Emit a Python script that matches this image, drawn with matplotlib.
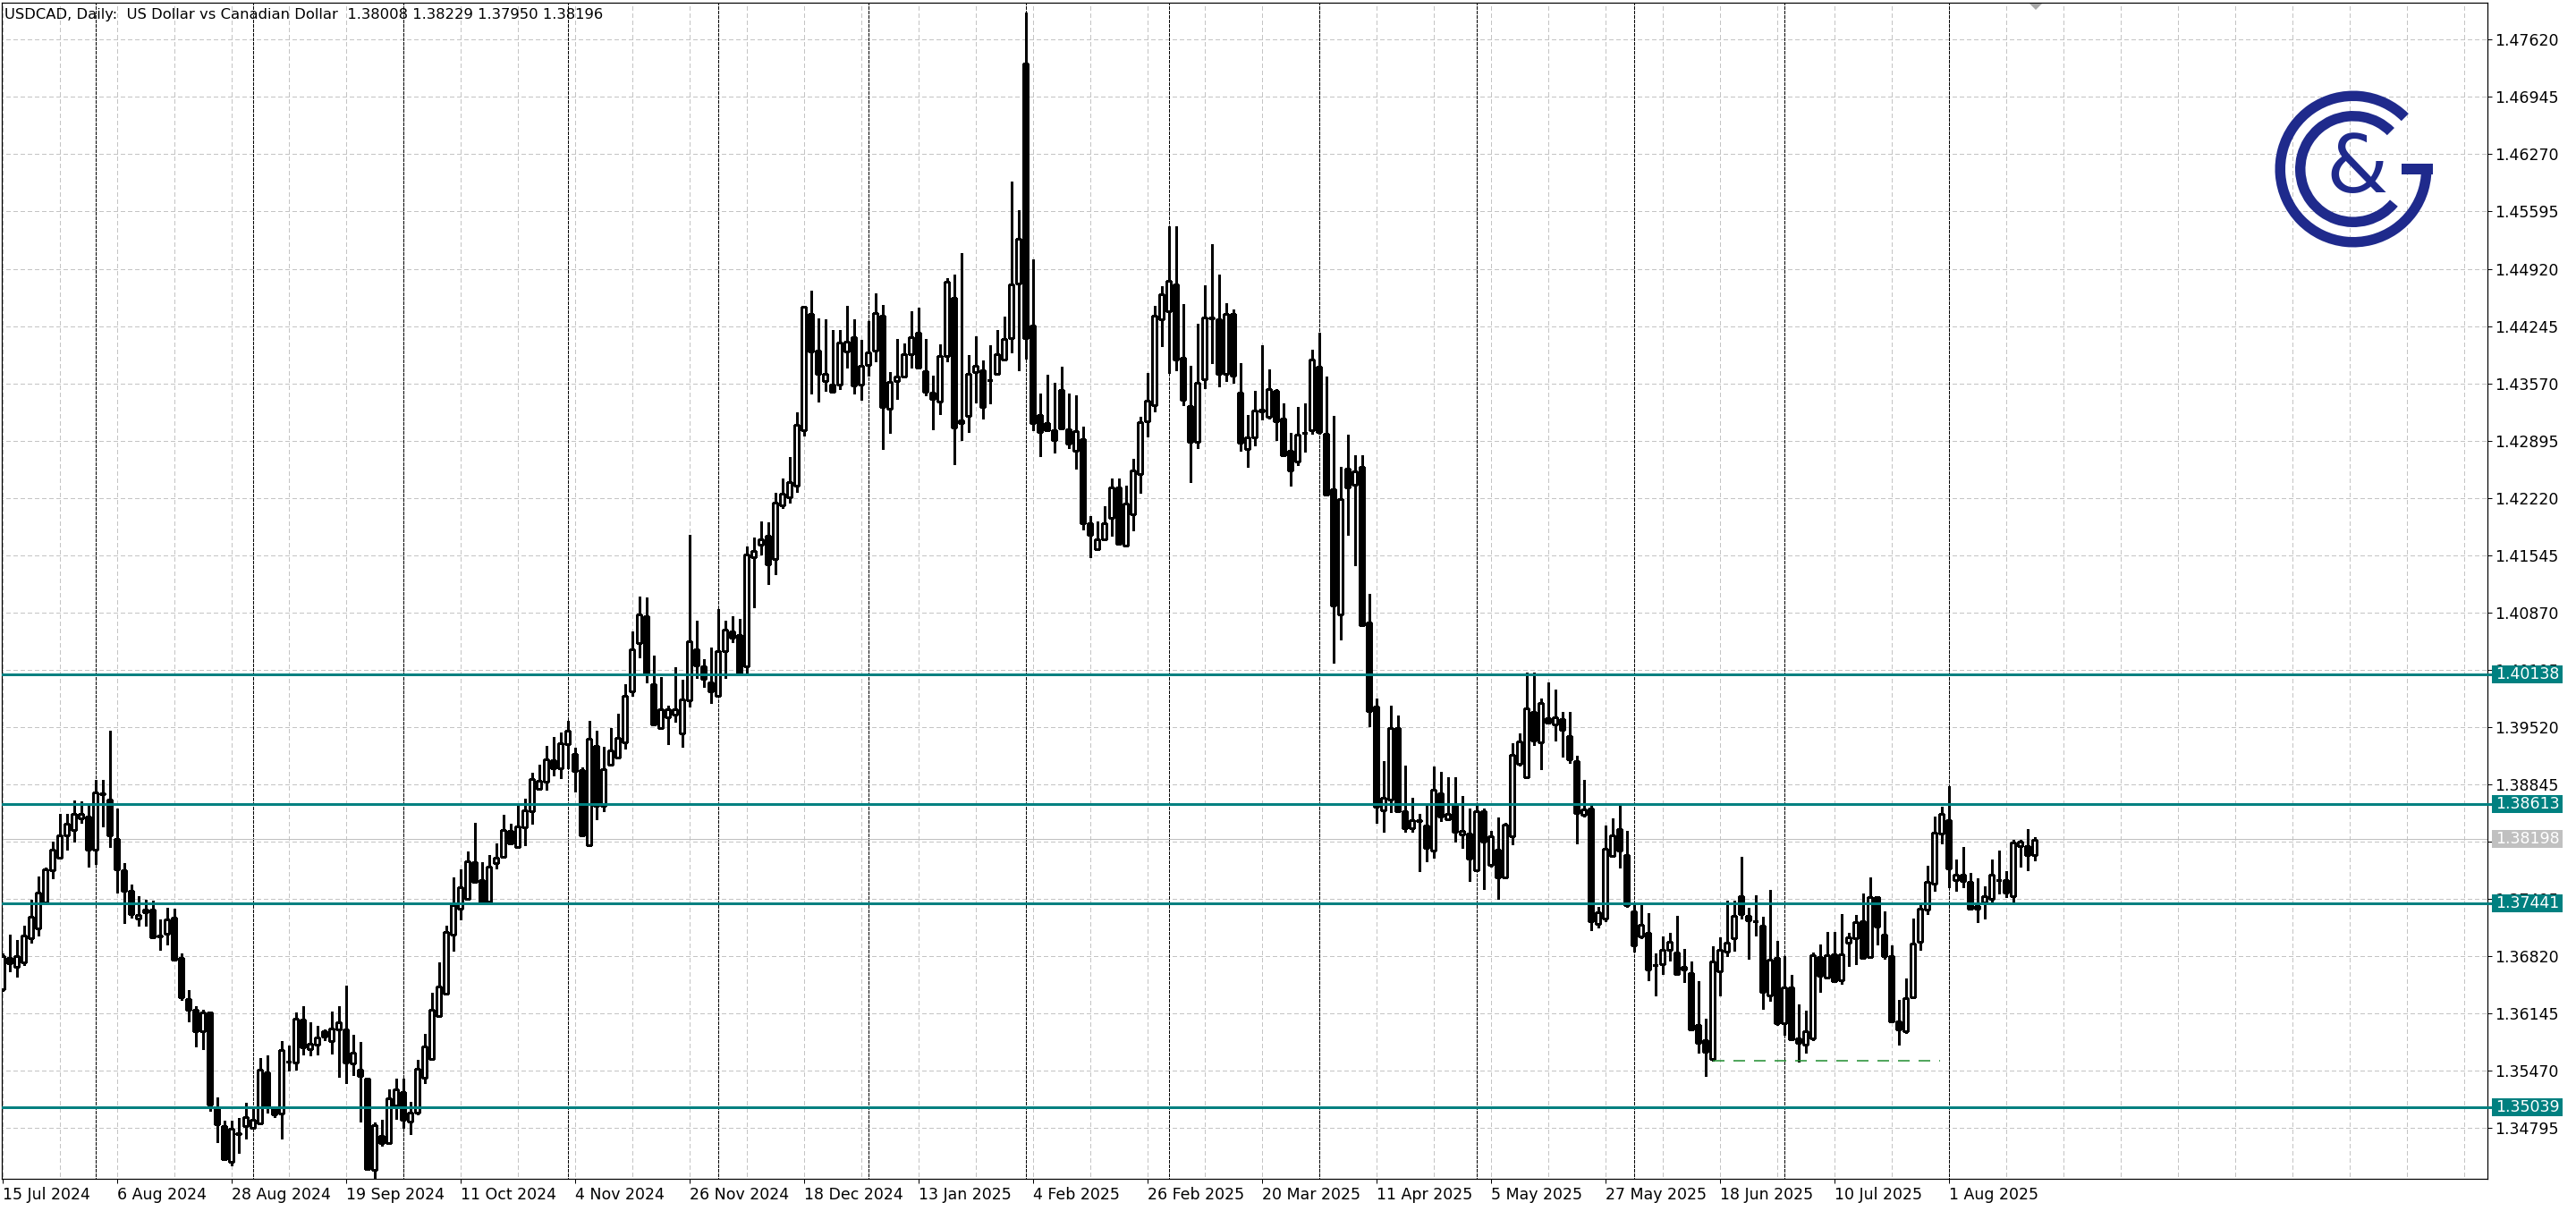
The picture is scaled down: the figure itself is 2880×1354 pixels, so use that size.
import matplotlib
matplotlib.use("Agg")
import matplotlib.pyplot as plt
import matplotlib.transforms as mtransforms
from matplotlib.patches import Rectangle, Wedge, Polygon
from matplotlib.collections import PatchCollection
import numpy as np
import pandas as pd

plt.rcParams['font.family'] = ['DejaVu Sans']
plt.rcParams['lines.scale_dashes'] = False

# ---------------- data ----------------
opens = [
 1.36434, 1.36799, 1.36700, 1.36751, 1.37028, 1.37152, 1.37455, 1.37830, 1.37983, 1.38245,
 1.38303, 1.38445, 1.38467, 1.38074, 1.38737, 1.38671, 1.38201, 1.37830, 1.37589, 1.37261,
 1.37334, 1.37371, 1.37060, 1.37090, 1.37272, 1.36799, 1.36318, 1.36190, 1.35935, 1.36161,
 1.35032, 1.34821, 1.34394, 1.34733, 1.34824, 1.34795, 1.34850, 1.35451, 1.35032, 1.34966,
 1.35575, 1.35571, 1.36077, 1.35731, 1.35779, 1.35932, 1.35826, 1.35961, 1.35962, 1.35558,
 1.35488, 1.35374, 1.34301, 1.34700, 1.34625, 1.35059, 1.35224, 1.34875, 1.34974, 1.35388,
 1.35608, 1.36112, 1.36381, 1.37080, 1.37384, 1.37494, 1.37928, 1.37718, 1.37464, 1.37918,
 1.37993, 1.38302, 1.38112, 1.38342, 1.38527, 1.38791, 1.38881, 1.39125, 1.39030, 1.39315,
 1.39205, 1.39010, 1.38127, 1.39300, 1.38591, 1.39075, 1.39165, 1.39340, 1.39938, 1.40512,
 1.40826, 1.40023, 1.39514, 1.39640, 1.39669, 1.39451, 1.39833, 1.40438, 1.40235, 1.40051,
 1.39886, 1.40419, 1.40646, 1.40607, 1.40235, 1.41517, 1.41672, 1.41773, 1.41502, 1.42136,
 1.42228, 1.42364, 1.43017, 1.44386, 1.43960, 1.43597, 1.43558, 1.43558, 1.43946, 1.44115,
 1.43558, 1.43791, 1.43960, 1.44371, 1.43273, 1.43597, 1.43646, 1.43912, 1.44163, 1.43718,
 1.43462, 1.43355, 1.43897, 1.44574, 1.43099, 1.43186, 1.43703, 1.43728, 1.43607, 1.43684,
 1.43849, 1.44099, 1.44745, 1.47340, 1.44250, 1.43194, 1.43107, 1.43021, 1.43495, 1.43030,
 1.42780, 1.42913, 1.41922, 1.41621, 1.41728, 1.41987, 1.42345, 1.41663, 1.42030, 1.42504,
 1.43120, 1.43314, 1.44323, 1.44422, 1.44734, 1.43870, 1.43301, 1.42879, 1.43616, 1.44344,
 1.44327, 1.43681, 1.44392, 1.43465, 1.42793, 1.42935, 1.43237, 1.43172, 1.43487, 1.43159,
 1.42771, 1.42646, 1.42990, 1.43021, 1.43763, 1.42978, 1.42319, 1.40845, 1.42568, 1.42375,
 1.42587, 1.40755, 1.39761, 1.38537, 1.38668, 1.39507, 1.38527, 1.38325, 1.38419, 1.38362,
 1.38066, 1.38739, 1.38433, 1.38598, 1.38254, 1.38268, 1.37830, 1.38527, 1.37901, 1.38080,
 1.37750, 1.38230, 1.39092, 1.38928, 1.39695, 1.39342, 1.39620, 1.39549, 1.39611, 1.39413,
 1.39116, 1.38490, 1.38560, 1.37199, 1.37270, 1.38000, 1.38315, 1.38009, 1.37350, 1.37050,
 1.37092, 1.36716, 1.36723, 1.36899, 1.36864, 1.36660, 1.36618, 1.36010, 1.35828, 1.35606,
 1.36646, 1.36874, 1.37029, 1.37524, 1.37292, 1.37236, 1.37180, 1.36362, 1.36801, 1.36028,
 1.36453, 1.35852, 1.35775, 1.35852, 1.36811, 1.36565, 1.36839, 1.36537, 1.36980, 1.37029,
 1.37233, 1.36811, 1.37521, 1.37075, 1.36818, 1.36049, 1.35940, 1.36337, 1.36994, 1.37373,
 1.37679, 1.38269, 1.38420, 1.37714, 1.37777, 1.37696, 1.37380, 1.37454, 1.37496, 1.37716,
 1.37718, 1.37531, 1.38122, 1.38122, 1.38008]

highs = [
 1.36853, 1.37079, 1.37017, 1.37181, 1.37484, 1.37757, 1.37866, 1.38176, 1.38500, 1.38500,
 1.38657, 1.38646, 1.38595, 1.38901, 1.38894, 1.39476, 1.38566, 1.37917, 1.37666, 1.37527,
 1.37484, 1.37473, 1.37254, 1.37393, 1.37382, 1.36853, 1.36424, 1.36234, 1.36190, 1.36170,
 1.35159, 1.34879, 1.34879, 1.34915, 1.35097, 1.35032, 1.35622, 1.35651, 1.35050, 1.35826,
 1.35768, 1.36161, 1.36234, 1.36045, 1.35997, 1.35961, 1.36172, 1.36237, 1.36471, 1.35897,
 1.35812, 1.35380, 1.34860, 1.34890, 1.35249, 1.35374, 1.35374, 1.35109, 1.35598, 1.35907,
 1.36386, 1.36745, 1.37180, 1.37753, 1.37843, 1.38053, 1.38392, 1.37933, 1.38018, 1.38152,
 1.38492, 1.38377, 1.38626, 1.38681, 1.38981, 1.39080, 1.39300, 1.39405, 1.39455, 1.39589,
 1.39275, 1.39050, 1.39589, 1.39479, 1.39290, 1.39514, 1.39679, 1.40028, 1.40647, 1.41061,
 1.41046, 1.40362, 1.40113, 1.39775, 1.40225, 1.40075, 1.41783, 1.40777, 1.40322, 1.40462,
 1.40912, 1.40777, 1.40825, 1.40791, 1.41647, 1.41749, 1.41943, 1.41928, 1.42276, 1.42446,
 1.42702, 1.43225, 1.44482, 1.44662, 1.44337, 1.44323, 1.44202, 1.44202, 1.44482, 1.44323,
 1.44081, 1.44299, 1.44628, 1.44492, 1.43708, 1.44096, 1.44042, 1.44420, 1.44458, 1.44096,
 1.43660, 1.44033, 1.44807, 1.44855, 1.45100, 1.43902, 1.44120, 1.43839, 1.44018, 1.44202,
 1.44357, 1.45952, 1.45607, 1.47943, 1.45034, 1.43452, 1.43676, 1.43582, 1.43763, 1.43452,
 1.43431, 1.43056, 1.42008, 1.41944, 1.42125, 1.42452, 1.42452, 1.42366, 1.42676, 1.43172,
 1.43689, 1.44487, 1.44711, 1.45426, 1.45426, 1.44508, 1.43776, 1.44271, 1.44724, 1.45211,
 1.44853, 1.44517, 1.44443, 1.43806, 1.43194, 1.43487, 1.44021, 1.43732, 1.43504, 1.43332,
 1.42987, 1.43293, 1.43332, 1.43970, 1.44163, 1.43652, 1.43190, 1.42587, 1.42964, 1.42728,
 1.42728, 1.41094, 1.39855, 1.39116, 1.39775, 1.39658, 1.39069, 1.38692, 1.38494, 1.38598,
 1.39055, 1.38989, 1.38928, 1.38928, 1.38706, 1.38565, 1.38612, 1.38565, 1.38301, 1.38457,
 1.38395, 1.39328, 1.39446, 1.40166, 1.40166, 1.39855, 1.40044, 1.39964, 1.39695, 1.39695,
 1.39187, 1.38895, 1.38598, 1.37397, 1.38362, 1.38442, 1.38598, 1.38301, 1.37444, 1.37426,
 1.37328, 1.36853, 1.37057, 1.37092, 1.37296, 1.36906, 1.36758, 1.36523, 1.36081, 1.36934,
 1.37040, 1.37472, 1.37472, 1.37988, 1.37391, 1.37542, 1.37285, 1.37602, 1.36997, 1.36818,
 1.36600, 1.36249, 1.36179, 1.36864, 1.36959, 1.37103, 1.37103, 1.37314, 1.37092, 1.37303,
 1.37556, 1.37753, 1.37531, 1.37345, 1.36952, 1.36302, 1.36555, 1.37261, 1.37426, 1.37890,
 1.38462, 1.38585, 1.38821, 1.37960, 1.38104, 1.37802, 1.37742, 1.37644, 1.37960, 1.38069,
 1.37819, 1.38192, 1.38192, 1.38315, 1.38229]

lows = [
 1.36416, 1.36642, 1.36580, 1.36715, 1.36981, 1.37065, 1.37444, 1.37739, 1.37975, 1.38081,
 1.38176, 1.38391, 1.37881, 1.37910, 1.38354, 1.38103, 1.37575, 1.37210, 1.37272, 1.37181,
 1.37181, 1.37028, 1.36897, 1.36963, 1.36781, 1.36307, 1.36052, 1.35761, 1.35724, 1.34995,
 1.34631, 1.34425, 1.34358, 1.34504, 1.34668, 1.34790, 1.34845, 1.34977, 1.34930, 1.34668,
 1.35469, 1.35487, 1.35662, 1.35651, 1.35662, 1.35833, 1.35670, 1.35404, 1.35324, 1.35423,
 1.34875, 1.34301, 1.34201, 1.34585, 1.34610, 1.34900, 1.34800, 1.34725, 1.34960, 1.35324,
 1.35600, 1.36105, 1.36375, 1.36885, 1.37254, 1.37490, 1.37683, 1.37460, 1.37460, 1.37853,
 1.37990, 1.38142, 1.38102, 1.38132, 1.38382, 1.38781, 1.38781, 1.38951, 1.38916, 1.39030,
 1.38766, 1.38240, 1.38117, 1.38432, 1.38527, 1.39065, 1.39155, 1.39265, 1.39889, 1.40338,
 1.40048, 1.39545, 1.39499, 1.39316, 1.39582, 1.39291, 1.39761, 1.40099, 1.39993, 1.39809,
 1.39880, 1.40099, 1.40525, 1.40128, 1.40148, 1.40936, 1.41551, 1.41202, 1.41323, 1.42097,
 1.42170, 1.42291, 1.42954, 1.43452, 1.43355, 1.43486, 1.43460, 1.43500, 1.43752, 1.43452,
 1.43379, 1.43660, 1.43825, 1.42799, 1.42983, 1.43389, 1.43640, 1.43752, 1.43742, 1.43428,
 1.43031, 1.43210, 1.43825, 1.42615, 1.42905, 1.42998, 1.43341, 1.43152, 1.43331, 1.43670,
 1.43840, 1.43935, 1.43720, 1.43862, 1.43021, 1.42711, 1.43015, 1.42750, 1.43040, 1.42806,
 1.42569, 1.41849, 1.41526, 1.41612, 1.41725, 1.41771, 1.41676, 1.41655, 1.41836, 1.42280,
 1.42948, 1.43237, 1.44013, 1.43689, 1.43720, 1.43310, 1.42409, 1.42806, 1.43517, 1.43806,
 1.43539, 1.43603, 1.43573, 1.42776, 1.42590, 1.42840, 1.43142, 1.43159, 1.42900, 1.42715,
 1.42362, 1.42612, 1.42763, 1.42978, 1.42978, 1.42248, 1.40279, 1.40552, 1.41787, 1.41424,
 1.40710, 1.39526, 1.38395, 1.38282, 1.38518, 1.38518, 1.38292, 1.38282, 1.37821, 1.37938,
 1.37986, 1.38409, 1.38430, 1.38174, 1.38094, 1.37703, 1.37821, 1.37609, 1.37877, 1.37500,
 1.37736, 1.38141, 1.39069, 1.38925, 1.39314, 1.39022, 1.39570, 1.39361, 1.39177, 1.39102,
 1.38150, 1.38466, 1.37124, 1.37161, 1.37232, 1.37995, 1.37868, 1.37397, 1.36880, 1.37029,
 1.36541, 1.36362, 1.36611, 1.36769, 1.36600, 1.36513, 1.35955, 1.35680, 1.35413, 1.35589,
 1.36362, 1.36818, 1.36888, 1.37261, 1.36794, 1.37064, 1.36196, 1.36291, 1.36010, 1.35898,
 1.35840, 1.35582, 1.35687, 1.35828, 1.36397, 1.36555, 1.36525, 1.36495, 1.36706, 1.36730,
 1.36800, 1.36804, 1.36962, 1.36794, 1.36038, 1.35775, 1.35915, 1.36330, 1.36899, 1.37321,
 1.37595, 1.38146, 1.37637, 1.37595, 1.37637, 1.37375, 1.37222, 1.37268, 1.37454, 1.37556,
 1.37521, 1.37451, 1.37876, 1.37837, 1.37950]

closes = [
 1.36824, 1.36737, 1.36824, 1.37065, 1.37291, 1.37571, 1.37844, 1.38074, 1.38245, 1.38383,
 1.38500, 1.38500, 1.38074, 1.38755, 1.38726, 1.38245, 1.37844, 1.37589, 1.37320, 1.37302,
 1.37371, 1.37043, 1.37054, 1.37254, 1.36781, 1.36336, 1.36190, 1.35935, 1.36161, 1.35076,
 1.34842, 1.34431, 1.34784, 1.34730, 1.34923, 1.34893, 1.35480, 1.35039, 1.34952, 1.35717,
 1.35578, 1.36081, 1.35750, 1.35790, 1.35863, 1.35870, 1.35972, 1.36045, 1.35573, 1.35688,
 1.35408, 1.34311, 1.34835, 1.34625, 1.35149, 1.35249, 1.34890, 1.34974, 1.35498, 1.35758,
 1.36187, 1.36461, 1.37105, 1.37419, 1.37629, 1.37943, 1.37693, 1.37464, 1.37878, 1.37978,
 1.38312, 1.38152, 1.38352, 1.38542, 1.38911, 1.38891, 1.39140, 1.39040, 1.39325, 1.39474,
 1.39005, 1.38242, 1.39380, 1.38591, 1.39020, 1.39245, 1.39390, 1.39884, 1.40437, 1.40846,
 1.40148, 1.39549, 1.39729, 1.39727, 1.39727, 1.39848, 1.40535, 1.40244, 1.40090, 1.39944,
 1.40419, 1.40670, 1.40573, 1.40148, 1.41551, 1.41599, 1.41735, 1.41435, 1.42170, 1.42267,
 1.42412, 1.43079, 1.44468, 1.43950, 1.43679, 1.43679, 1.43467, 1.44047, 1.44057, 1.43549,
 1.43776, 1.43936, 1.44395, 1.43297, 1.43583, 1.43646, 1.43912, 1.44115, 1.43752, 1.43476,
 1.43389, 1.43897, 1.44768, 1.43050, 1.43138, 1.43679, 1.43781, 1.43297, 1.43612, 1.43912,
 1.44090, 1.44737, 1.45271, 1.44099, 1.43099, 1.43000, 1.43021, 1.42900, 1.43043, 1.42857,
 1.43013, 1.41922, 1.41784, 1.41728, 1.41922, 1.42345, 1.41685, 1.42151, 1.42547, 1.43116,
 1.43366, 1.44366, 1.44625, 1.44780, 1.43849, 1.43379, 1.42879, 1.43573, 1.44344, 1.44340,
 1.43681, 1.44392, 1.43659, 1.42870, 1.42935, 1.43245, 1.43258, 1.43504, 1.43120, 1.42719,
 1.42547, 1.42970, 1.42987, 1.43849, 1.43000, 1.42258, 1.40953, 1.42210, 1.42342, 1.42531,
 1.40717, 1.39705, 1.38584, 1.38692, 1.39507, 1.38527, 1.38325, 1.38419, 1.38415, 1.38094,
 1.38786, 1.38471, 1.38494, 1.38282, 1.38301, 1.37971, 1.38527, 1.38174, 1.38230, 1.37750,
 1.38376, 1.39196, 1.39351, 1.39738, 1.39361, 1.39808, 1.39573, 1.39634, 1.39493, 1.39139,
 1.38504, 1.38551, 1.37232, 1.37340, 1.38089, 1.38245, 1.38066, 1.37420, 1.36950, 1.37191,
 1.36660, 1.36713, 1.36892, 1.36994, 1.36607, 1.36695, 1.35961, 1.35803, 1.35698, 1.36758,
 1.36892, 1.36980, 1.37292, 1.37321, 1.37240, 1.37233, 1.36397, 1.36776, 1.36031, 1.36453,
 1.35845, 1.35803, 1.35940, 1.36829, 1.36590, 1.36836, 1.36530, 1.36839, 1.37040, 1.37226,
 1.36804, 1.37514, 1.37173, 1.36818, 1.36049, 1.35961, 1.36330, 1.36969, 1.37380, 1.37696,
 1.38276, 1.38497, 1.37858, 1.37777, 1.37707, 1.37380, 1.37415, 1.37524, 1.37777, 1.37714,
 1.37573, 1.38157, 1.38171, 1.38013, 1.38196]

first_day = "2024-07-15"
holidays = ["2024-12-25", "2025-01-01"]
date_labels = ["15 Jul 2024", "6 Aug 2024", "28 Aug 2024", "19 Sep 2024", "11 Oct 2024",
               "4 Nov 2024", "26 Nov 2024", "18 Dec 2024", "13 Jan 2025", "4 Feb 2025",
               "26 Feb 2025", "20 Mar 2025", "11 Apr 2025", "5 May 2025", "27 May 2025",
               "18 Jun 2025", "10 Jul 2025", "1 Aug 2025"]
price_labels = ["1.34795", "1.35470", "1.36145", "1.36820", "1.37495", "1.38170", "1.38845",
                "1.39520", "1.40195", "1.40870", "1.41545", "1.42220", "1.42895", "1.43570",
                "1.44245", "1.44920", "1.45595", "1.46270", "1.46945", "1.47620"]
level_lines = [1.40138, 1.38613, 1.37441, 1.35039]
bid_price = 1.38198
double_bottom_level = 1.35585
double_bottom_bars = [239, 270.8]
header = "USDCAD, Daily:  US Dollar vs Canadian Dollar  1.38008 1.38229 1.37950 1.38196"

# ---------------- layout ----------------
W, H = 2880, 1354
PX = 0.72  # points per pixel at dpi 100
TEAL = "#008080"
GRID = "#c4c4c4"
NAVY = "#1f2a8c"

n = len(opens)
cal = pd.bdate_range(first_day, periods=n + 10)
cal = cal[~cal.isin(pd.to_datetime(holidays))][:n]
x = np.arange(n)
o, h, l, c = (np.array(v) for v in (opens, highs, lows, closes))

fig = plt.figure(figsize=(W / 100, H / 100), dpi=100)
fig.patch.set_facecolor("white")
ax = fig.add_axes([2 / W, 1 - 1318 / H, 2779 / W, 1315 / H])
ax.set_xlim(-0.0875, 347.29)
ax.set_ylim(1.341985, 1.480552)

# grid (5 px dash, 4 px gap)
price_vals = [float(s) for s in price_labels]
ax.hlines(price_vals, -1, 400, colors=GRID, lw=PX, linestyles=(0, (5 * PX, 4 * PX)),
          zorder=1, antialiased=False)
ax.vlines(np.arange(0, 350, 8), 1.3, 1.5, colors=GRID, lw=PX, linestyles=(0, (5 * PX, 4 * PX)),
          zorder=1, antialiased=False)

# month separators (black dotted)
month_start = [i for i in range(1, n) if cal[i].month != cal[i - 1].month]
ax.vlines(month_start, 1.3, 1.5, colors="black", lw=PX, linestyles=(0, (3 * PX, 2 * PX)),
          zorder=1.5, antialiased=False)

# bid line
ax.axhline(bid_price, color="#c0c0c0", lw=PX, zorder=1.6, antialiased=False)

# candles
ax.vlines(x, np.minimum(l, np.minimum(o, c)), np.maximum(h, np.maximum(o, c)),
          colors="black", lw=1.3 * PX, zorder=3, antialiased=False)
bw = 0.62
rects, faces = [], []
for i in range(n):
    lo_, hi_ = min(o[i], c[i]), max(o[i], c[i])
    rects.append(Rectangle((i - bw / 2, lo_), bw, hi_ - lo_))
    faces.append("white" if c[i] >= o[i] else "black")
pc = PatchCollection(rects, facecolors=faces, edgecolors="black", linewidths=1.1 * PX,
                     zorder=4, antialiased=False)
ax.add_collection(pc)

# levels
for lv in level_lines:
    ax.axhline(lv, color=TEAL, lw=3 * PX, zorder=6)
ax.hlines(double_bottom_level, double_bottom_bars[0], double_bottom_bars[1],
          colors="#1a8a2a", lw=1.5 * PX, linestyles=(0, (13 * PX, 10 * PX)), zorder=6)

# spines
for s in ax.spines.values():
    s.set_color("black")
    s.set_linewidth(1.2 * PX)

# x axis
lab_idx = [cal.get_loc(pd.to_datetime(d, format="%d %b %Y")) for d in date_labels]
ax.set_xticks(lab_idx)
ax.set_xticklabels(date_labels)
ax.tick_params(axis="x", length=5 * PX, width=PX, pad=3, labelsize=12.5, colors="black")
for t in ax.get_xticklabels():
    t.set_ha("left")

# y axis
ax.yaxis.tick_right()
ax.set_yticks(price_vals)
ax.set_yticklabels(price_labels)
ax.tick_params(axis="y", length=5 * PX, width=PX, pad=2.2, labelsize=12.5, colors="black")

# price boxes
bt = mtransforms.blended_transform_factory(mtransforms.IdentityTransform(), ax.transData)
ppu = 1315 / (1.480552 - 1.341985)
half = 10 / ppu
for lv, col in [(v, TEAL) for v in level_lines] + [(bid_price, "#c0c0c0")]:
    if col == TEAL:
        ax.add_line(plt.Line2D([2781, 2787], [lv, lv], color=TEAL, lw=3 * PX,
                               transform=bt, clip_on=False, zorder=20))
    ax.add_patch(Rectangle((2786, lv - half), 79, 2 * half, facecolor=col, edgecolor="none",
                           transform=bt, clip_on=False, zorder=21))
    ax.text(2825.5, lv, f"{lv:.5f}", color="white", fontsize=12.5, ha="center", va="center",
            transform=bt, clip_on=False, zorder=22)

# header
fig.text(5 / W, 1 - 16 / H, header, fontsize=11.8, ha="left", va="center", color="black")

# overlay (logo + shift marker) in pixel coordinates, y up
ov = fig.add_axes([0, 0, 1, 1], zorder=30)
ov.set_xlim(0, W)
ov.set_ylim(-H, 0)
ov.axis("off")
ov.patch.set_alpha(0)
cx, cy = 2631, -189
ov.add_patch(Wedge((cx, cy), 87.5, 45, 364, width=11.5, facecolor=NAVY, edgecolor="none"))
ov.add_patch(Wedge((cx, cy), 65, 45, 320, width=11.5, facecolor=NAVY, edgecolor="none"))
ov.add_patch(Rectangle((2685, cy - 5.75), 35, 11.5, facecolor=NAVY, edgecolor="none"))
ov.text(2635, cy - 2, "&", fontsize=64, color=NAVY, ha="center", va="center")
ov.add_patch(Polygon([(2269, -4), (2283, -4), (2276, -11)], closed=True,
                     facecolor="#a8a8a8", edgecolor="none"))

fig.savefig("out.png", dpi=100)
